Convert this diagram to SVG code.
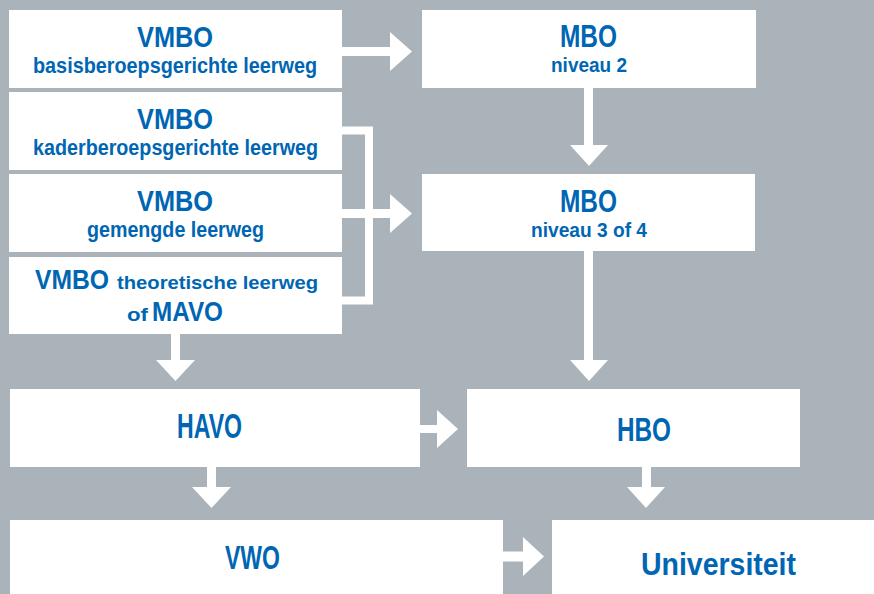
<svg xmlns="http://www.w3.org/2000/svg" width="874" height="594" viewBox="0 0 874 594">
<style>
.box{fill:#ffffff}
.t{font-family:"Liberation Sans",Arial,sans-serif;font-weight:bold;fill:#0066b3;text-anchor:middle}
.arr{fill:#ffffff}
.ln{fill:none;stroke:#ffffff;stroke-width:8}
</style>
<rect width="874" height="594" fill="#a9b3b9"/>
<g id="connectors">
<path class="arr" d="M342,47 H390 V32 L412,51.5 L390,71 V56 H342 Z"/>
<path class="ln" d="M342,130.5 H369 V300.5 H342"/>
<path class="arr" d="M342,209 H390 V194 L412,213.5 L390,233 V218 H342 Z"/>
<path class="arr" d="M584,88 V145 H570 L589,166 L608,145 H593 V88 Z"/>
<path class="arr" d="M584,251 V360 H570 L589,381 L608,360 H593 V251 Z"/>
<path class="arr" d="M171,334 V360 H156 L175.5,381 L195,360 H180 V334 Z"/>
<path class="arr" d="M207,467 V487 H192 L211.5,508 L231,487 H216 V467 Z"/>
<path class="arr" d="M642,467 V487 H627 L646,508 L665,487 H651 V467 Z"/>
<path class="arr" d="M420,425 H437 V410 L458,429 L437,448 V433 H420 Z"/>
<path class="arr" d="M503,551.5 H523 V537 L544,556.5 L523,576 V561.5 H503 Z"/>
</g>
<g id="vmbo-basis">
<rect class="box" x="9" y="10" width="333" height="78"/>
<text class="t" x="175" y="47" font-size="30" textLength="76" lengthAdjust="spacingAndGlyphs">VMBO</text>
<text class="t" x="175" y="73" font-size="22" textLength="284" lengthAdjust="spacingAndGlyphs">basisberoepsgerichte leerweg</text>
</g>
<g id="vmbo-kader">
<rect class="box" x="9" y="92" width="333" height="78"/>
<text class="t" x="175" y="129" font-size="30" textLength="76" lengthAdjust="spacingAndGlyphs">VMBO</text>
<text class="t" x="175.5" y="155" font-size="22" textLength="285" lengthAdjust="spacingAndGlyphs">kaderberoepsgerichte leerweg</text>
</g>
<g id="vmbo-gemengd">
<rect class="box" x="9" y="174" width="333" height="78"/>
<text class="t" x="175" y="211" font-size="30" textLength="76" lengthAdjust="spacingAndGlyphs">VMBO</text>
<text class="t" x="175.5" y="237" font-size="22" textLength="177" lengthAdjust="spacingAndGlyphs">gemengde leerweg</text>
</g>
<g id="vmbo-theoretisch">
<rect class="box" x="9" y="257" width="333" height="77"/>
<text class="t" x="72" y="289" font-size="27" textLength="74" lengthAdjust="spacingAndGlyphs">VMBO</text>
<text class="t" x="217.5" y="289" font-size="18.5" textLength="201" lengthAdjust="spacingAndGlyphs">theoretische leerweg</text>
<text class="t" x="137.5" y="321" font-size="18.5" textLength="21" lengthAdjust="spacingAndGlyphs">of</text>
<text class="t" x="187.5" y="321" font-size="27" textLength="71" lengthAdjust="spacingAndGlyphs">MAVO</text>
</g>
<g id="mbo-2">
<rect class="box" x="422" y="10" width="334" height="78"/>
<text class="t" x="588.5" y="47" font-size="31" textLength="57" lengthAdjust="spacingAndGlyphs">MBO</text>
<text class="t" x="589" y="72" font-size="21" textLength="76" lengthAdjust="spacingAndGlyphs">niveau 2</text>
</g>
<g id="mbo-34">
<rect class="box" x="422" y="174" width="333" height="77"/>
<text class="t" x="588.5" y="212" font-size="31" textLength="57" lengthAdjust="spacingAndGlyphs">MBO</text>
<text class="t" x="589" y="237" font-size="21" textLength="116" lengthAdjust="spacingAndGlyphs">niveau 3 of 4</text>
</g>
<g id="havo">
<rect class="box" x="10" y="389" width="410" height="78"/>
<text class="t" x="209.5" y="438" font-size="35" textLength="65" lengthAdjust="spacingAndGlyphs">HAVO</text>
</g>
<g id="hbo">
<rect class="box" x="467" y="389" width="333" height="78"/>
<text class="t" x="644" y="441" font-size="33" textLength="54" lengthAdjust="spacingAndGlyphs">HBO</text>
</g>
<g id="vwo">
<rect class="box" x="10" y="520" width="493" height="74"/>
<text class="t" x="252.5" y="569" font-size="33" textLength="55" lengthAdjust="spacingAndGlyphs">VWO</text>
</g>
<g id="universiteit">
<rect class="box" x="552" y="520" width="322" height="74"/>
<text class="t" x="718.5" y="575" font-size="32" textLength="155" lengthAdjust="spacingAndGlyphs">Universiteit</text>
</g>
</svg>
